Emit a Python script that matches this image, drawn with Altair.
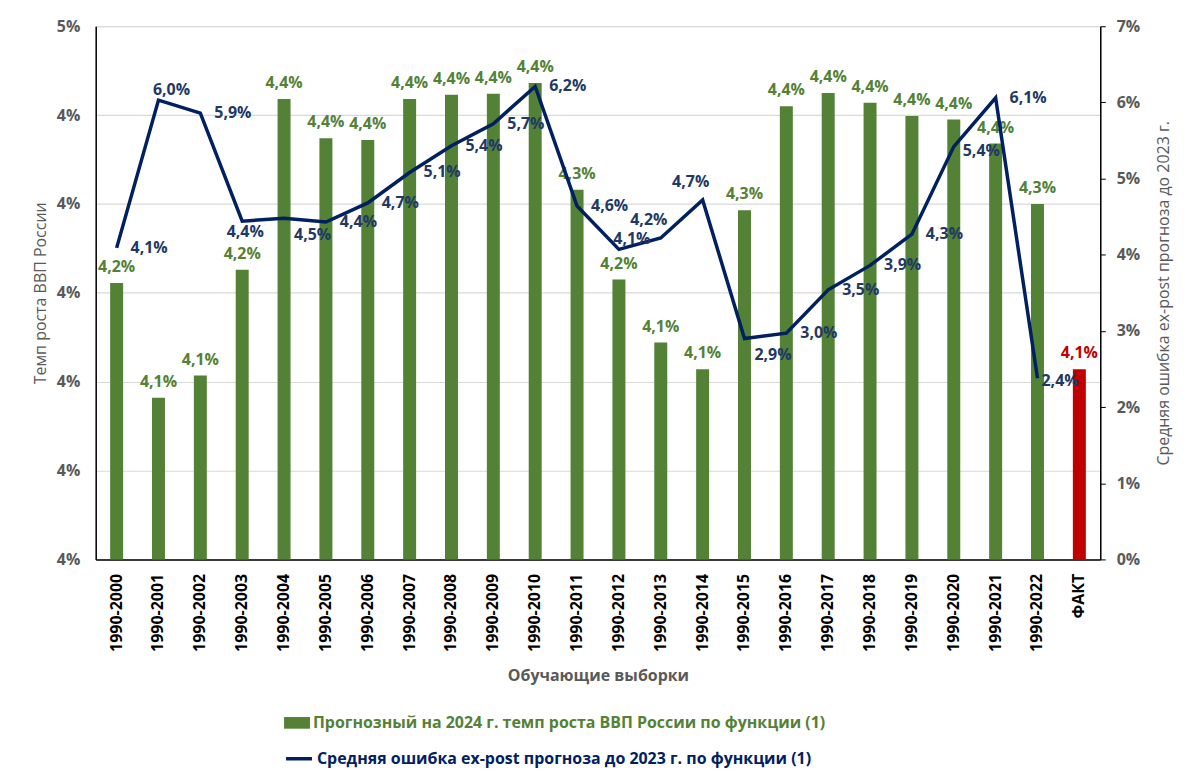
import altair as alt
import pandas as pd

# ---------------- data ----------------
CATEGORIES = ["1990-2000", "1990-2001", "1990-2002", "1990-2003", "1990-2004", "1990-2005",
              "1990-2006", "1990-2007", "1990-2008", "1990-2009", "1990-2010", "1990-2011",
              "1990-2012", "1990-2013", "1990-2014", "1990-2015", "1990-2016", "1990-2017",
              "1990-2018", "1990-2019", "1990-2020", "1990-2021", "1990-2022", "ФАКТ"]
# forecast GDP growth for 2024, % (left axis)
FORECAST = [4.211, 4.082, 4.107, 4.226, 4.418, 4.374, 4.372, 4.418, 4.423, 4.424, 4.436, 4.316,
            4.215, 4.144, 4.114, 4.293, 4.410, 4.425, 4.414, 4.399, 4.395, 4.368, 4.300, 4.114]
# mean ex-post forecast error, % (right axis); no value for ФАКТ
ERROR = [4.09, 6.03, 5.86, 4.44, 4.48, 4.43, 4.68, 5.08, 5.43, 5.72, 6.21, 4.64,
         4.07, 4.22, 4.72, 2.90, 2.97, 3.54, 3.86, 4.27, 5.42, 6.06, 2.38]
LEFT_TICKS = [3.9, 4.0, 4.1, 4.2, 4.3, 4.4, 4.5]
RIGHT_TICKS = [0, 1, 2, 3, 4, 5, 6, 7]
FACT_LABEL = "ФАКТ"
LEGEND_BAR = "Прогнозный на 2024 г. темп роста ВВП России по функции (1)"
LEGEND_LINE = "Средняя ошибка ex-post прогноза до 2023 г. по функции (1)"
# where each line data label sits relative to its point (default: right)
LINE_LABEL_PLACEMENT = {
    "1990-2001": "above", "1990-2003": "below", "1990-2004": "below_right",
    "1990-2012": "above", "1990-2013": "above_left", "1990-2014": "above_left",
    "1990-2015": "below_right", "1990-2020": "right_low", "1990-2022": "near",
}

# ---------------- styles ----------------
GREEN = "#538135"
RED = "#C00000"
NAVY = "#002060"
NAVY_TXT = "#1F3864"
GREY = "#595959"
FONT = "Open Sans"

PLACEMENT_STYLE = {
    "right": dict(align="left", dx=14, dy=0),
    "right_low": dict(align="left", dx=9, dy=4),
    "near": dict(align="left", dx=4, dy=3),
    "above": dict(align="center", dx=13, dy=-10),
    "below": dict(align="center", dx=3, dy=11),
    "below_right": dict(align="left", dx=10, dy=17),
    "above_left": dict(align="center", dx=-12, dy=-18),
}

bars_df = pd.DataFrame({
    "cat": CATEGORIES,
    "forecast": [v / 100 for v in FORECAST],
    "series": [FACT_LABEL if c == FACT_LABEL else LEGEND_BAR for c in CATEGORIES],
})
line_df = pd.DataFrame({
    "cat": CATEGORIES[:len(ERROR)],
    "error": [v / 100 for v in ERROR],
    "series": [LEGEND_LINE] * len(ERROR),
    "place": [LINE_LABEL_PLACEMENT.get(c, "right") for c in CATEGORIES[:len(ERROR)]],
})

W, H = 1008, 535

x_scale = alt.Scale(domain=CATEGORIES, paddingInner=0.69, paddingOuter=0.345)
x_axis = alt.Axis(
    title="Обучающие выборки", labelAngle=270, labelFontSize=16, labelFontWeight="bold",
    labelColor="black", labelFont=FONT, labelPadding=14, ticks=False,
    domainColor="black", domainWidth=1.5, titleFontSize=16, titleFontWeight="bold",
    titleColor=GREY, titleFont=FONT, titlePadding=16, grid=False,
)
x_enc = alt.X("cat:N", scale=x_scale, axis=x_axis, sort=CATEGORIES)

y_left_scale = alt.Scale(domain=[LEFT_TICKS[0] / 100, LEFT_TICKS[-1] / 100], zero=False, nice=False)
y_left_axis = alt.Axis(
    title="Темп роста ВВП России", orient="left", values=[t / 100 for t in LEFT_TICKS],
    format=".0%", labelFontSize=16, labelFontWeight="bold", labelColor=GREY, labelFont=FONT,
    labelPadding=16, ticks=False, domainColor="black", domainWidth=1.5,
    grid=True, gridColor="#D9D9D9", gridWidth=1.2,
    titleFontSize=16, titleFontWeight="normal", titleColor=GREY, titleFont=FONT, titlePadding=8,
)
y_left_enc = alt.Y("forecast:Q", scale=y_left_scale, axis=y_left_axis)

bar_path = "M-1,-0.45L1,-0.45L1,0.45L-1,0.45Z"

left_base = alt.Chart(bars_df).encode(x=x_enc, y=y_left_enc)

bars = left_base.mark_bar().encode(
    y2=alt.datum(LEFT_TICKS[0] / 100),
    fill=alt.Fill(
        "series:N",
        scale=alt.Scale(domain=[LEGEND_BAR, FACT_LABEL], range=[GREEN, RED]),
        legend=alt.Legend(
            orient="none", legendX=189, legendY=686, title=None, values=[LEGEND_BAR],
            symbolType=bar_path, symbolSize=676, symbolStrokeWidth=0, symbolOpacity=1,
            labelColor=GREEN, labelFont=FONT, labelFontSize=16, labelFontWeight="bold",
            labelOffset=3, padding=0, labelLimit=800,
        ),
    ),
)

bar_labels = left_base.transform_calculate(
    lbl="replace(format(datum.forecast, '.1%'), '.', ',')"
).mark_text(
    baseline="alphabetic", dy=-11, fontSize=16, fontWeight="bold", font=FONT
).encode(
    text="lbl:N",
    fill=alt.condition(f"datum.cat == '{FACT_LABEL}'", alt.value(RED), alt.value(GREEN)),
)

left = alt.layer(bars, bar_labels)

y_right_scale = alt.Scale(domain=[RIGHT_TICKS[0] / 100, RIGHT_TICKS[-1] / 100], nice=False)
y_right_axis = alt.Axis(
    title="Средняя ошибка ex-post прогноза до 2023 г.", orient="right",
    values=[t / 100 for t in RIGHT_TICKS], format=".0%", labelFontSize=16,
    labelFontWeight="bold", labelColor=GREY, labelFont=FONT, labelPadding=11,
    ticks=True, tickSize=5, tickColor="black", domainColor="black", domainWidth=1.5,
    grid=False, titleFontSize=16, titleFontWeight="normal", titleColor=GREY, titleFont=FONT,
    titlePadding=32, titleAngle=270,
)

right_base = alt.Chart(line_df).encode(
    x=x_enc, y=alt.Y("error:Q", scale=y_right_scale, axis=y_right_axis)
)

line = right_base.mark_line(strokeWidth=3.5, strokeJoin="miter").encode(
    stroke=alt.Stroke(
        "series:N",
        scale=alt.Scale(domain=[LEGEND_LINE], range=[NAVY]),
        legend=alt.Legend(
            orient="none", legendX=189, legendY=720, title=None, symbolType="stroke",
            symbolSize=676, symbolStrokeWidth=3.5, labelColor=NAVY, labelFont=FONT,
            labelFontSize=16, labelFontWeight="bold", labelOffset=3, padding=0, labelLimit=800,
        ),
    ),
)

line_label_layers = []
for place, st in PLACEMENT_STYLE.items():
    line_label_layers.append(
        right_base.transform_filter(f"datum.place == '{place}'").transform_calculate(
            lbl="replace(format(datum.error, '.1%'), '.', ',')"
        ).mark_text(
            baseline="middle", fontSize=16, fontWeight="bold", font=FONT, color=NAVY_TXT, **st
        ).encode(text="lbl:N")
    )

right = alt.layer(line, *line_label_layers)

chart = alt.layer(left, right).resolve_scale(y="independent").properties(
    width=W, height=H,
    padding={"left": 88, "top": 17, "right": 82, "bottom": 212},
    autosize=alt.AutoSizeParams(type="none"),
).configure_view(stroke=None).configure(font=FONT)

chart.save("out.html", embed_options={"renderer": "svg", "actions": False})
